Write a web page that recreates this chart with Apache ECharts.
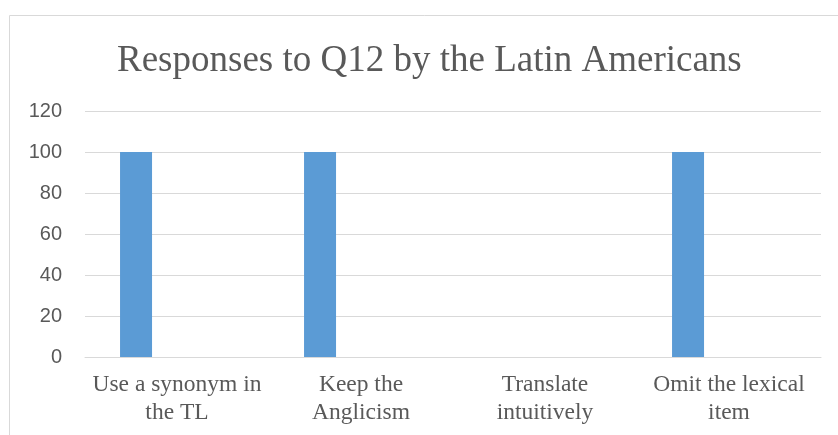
<!DOCTYPE html>
<html><head><meta charset="utf-8">
<script src="https://cdn.jsdelivr.net/npm/echarts@6/dist/echarts.min.js"></script>
<style>html,body{margin:0;padding:0;background:#fff}#c{width:838px;height:435px}</style>
</head><body><div id="c"></div>
<script>
const title = 'Responses to Q12 by the Latin Americans';
const categories = ['Use a synonym in\nthe TL', 'Keep the\nAnglicism', 'Translate\nintuitively', 'Omit the lexical\nitem'];
const latinAmericans = [100, 100, 0, 100];
const placeholder = [null, null, null, null];
const yTicks = { min: 0, max: 120, interval: 20 };

const chart = echarts.init(document.getElementById('c'));
chart.setOption({
  animation: false,
  title: {
    text: title, left: 112, top: 38,
    textStyle: { fontFamily: 'Liberation Serif', fontWeight: 'normal', fontSize: 37, color: '#595959' }
  },
  graphic: [{
    type: 'rect', shape: { x: 9.5, y: 15.5, width: 840, height: 440 },
    style: { fill: 'none', stroke: '#d9d9d9', lineWidth: 1 }, silent: true, z: -1
  }],
  grid: { left: 85, right: 17, top: 111, bottom: 78 },
  xAxis: {
    type: 'category', data: categories,
    axisLine: { show: true, lineStyle: { color: '#d9d9d9' } },
    axisTick: { show: false },
    axisLabel: { fontFamily: 'Liberation Serif', fontSize: 23.5, color: '#595959', lineHeight: 28, margin: 14, interval: 0 }
  },
  yAxis: {
    type: 'value', min: yTicks.min, max: yTicks.max, interval: yTicks.interval,
    axisLine: { show: false }, axisTick: { show: false },
    axisLabel: { fontFamily: 'Liberation Sans', fontSize: 20, color: '#595959', margin: 23 },
    splitLine: { lineStyle: { color: '#d9d9d9', width: 1 } }
  },
  series: [
    { name: 'Latin Americans', type: 'bar', data: latinAmericans, barWidth: 32, barGap: '156%', itemStyle: { color: '#5b9bd5' } },
    { name: '', type: 'bar', data: placeholder, barWidth: 32, itemStyle: { color: '#ed7d31' } }
  ]
});
</script></body></html>
